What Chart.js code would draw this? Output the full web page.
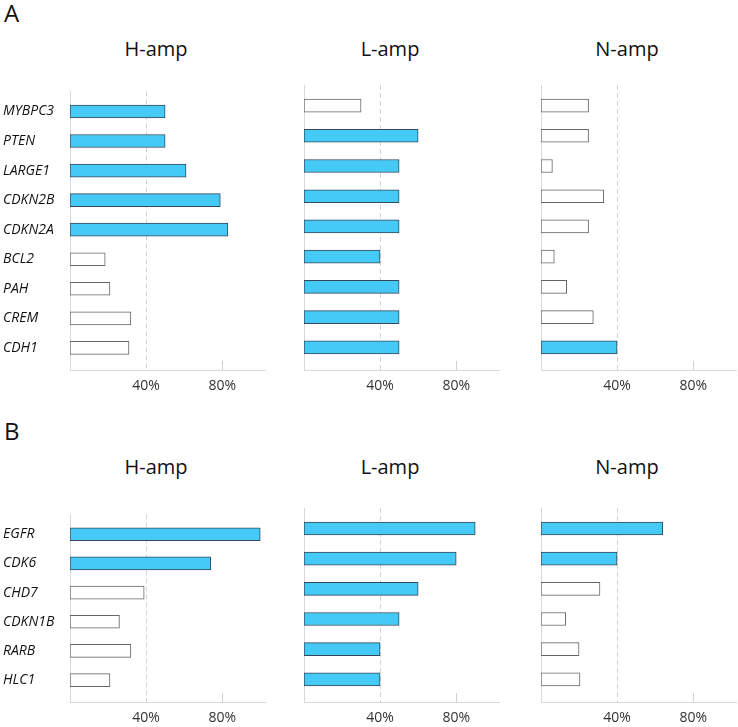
<!DOCTYPE html>
<html>
<head>
<meta charset="utf-8">
<script src="https://cdn.jsdelivr.net/npm/chart.js@4.4.1/dist/chart.umd.min.js"></script>
<style>
  html, body { margin: 0; padding: 0; background: #fff; overflow: hidden; }
  body { width: 738px; height: 727px; position: relative; font-family: "Open Sans", sans-serif; color: #111; }
  .letter { position: absolute; left: 4px; font-size: 24px; line-height: 1; }
  .title { position: absolute; width: 160px; margin-left: -80px; text-align: center; font-size: 20px; line-height: 1; }
  canvas { position: absolute; }
</style>
</head>
<body>
<div class="letter" style="top:1px">A</div>
<div class="letter" style="top:419px">B</div>

<div class="title" style="left:156px;top:39px">H-amp</div>
<div class="title" style="left:390px;top:39px">L-amp</div>
<div class="title" style="left:627px;top:39px">N-amp</div>
<div class="title" style="left:156px;top:457px">H-amp</div>
<div class="title" style="left:390px;top:457px">L-amp</div>
<div class="title" style="left:627px;top:457px">N-amp</div>

<canvas id="aH"></canvas>
<canvas id="aL"></canvas>
<canvas id="aN"></canvas>
<canvas id="bH"></canvas>
<canvas id="bL"></canvas>
<canvas id="bN"></canvas>

<script>
// panel A genes and frequencies (%)
const genesA = ['MYBPC3', 'PTEN', 'LARGE1', 'CDKN2B', 'CDKN2A', 'BCL2', 'PAH', 'CREM', 'CDH1'];
const hampA = [50, 50, 61, 79, 83, 18.5, 21, 32, 31];
const lampA = [30, 60, 50, 50, 50, 40, 50, 50, 50];
const nampA = [25, 25, 6, 33, 25, 7, 13.5, 27.5, 40];

// panel B genes and frequencies (%)
const genesB = ['EGFR', 'CDK6', 'CHD7', 'CDKN1B', 'RARB', 'HLC1'];
const hampB = [100, 74, 39, 26, 32, 21];
const lampB = [90, 80, 60, 50, 40, 40];
const nampB = [64, 40, 31, 13, 20, 20.5];

const xTicks = [40, 80];

const FONT = '"Open Sans", sans-serif';
const BLUE = '#45c9f6';
const PLOT_W = 195;

const COLS = [
    { left: 3, axisW: 67 },
    { left: 294, axisW: 10 },
    { left: 531, axisW: 10 }
];
const ROWS = [
    { top: 80, plotH: 285, axisH: 30, tickPad: 8 },
    { top: 503, plotH: 194, axisH: 25, tickPad: 8 }
];

// small solid tick at 80% sitting on the axis
const tickMark = {
    id: 'tickMark',
    afterDraw(chart) {
        const { ctx, chartArea, scales: { x } } = chart;
        const px = Math.round(x.getPixelForValue(xTicks[1])) + 0.5;
        ctx.save();
        ctx.strokeStyle = '#d0d0d0';
        ctx.lineWidth = 1;
        ctx.beginPath();
        ctx.moveTo(px, chartArea.bottom - 9);
        ctx.lineTo(px, chartArea.bottom);
        ctx.stroke();
        ctx.restore();
    }
};

function panel(id, labels, values, col, row) {
    const canvas = document.getElementById(id);
    const c = COLS[col], r = ROWS[row];
    canvas.width = c.axisW + PLOT_W + 2;
    canvas.height = 5 + r.plotH + r.axisH;
    canvas.style.left = c.left + 'px';
    canvas.style.top = r.top + 'px';

    new Chart(canvas, {
        type: 'bar',
        data: {
            datasets: [{
                data: values.map((v, i) => ({ x: v, y: i })),
                backgroundColor: values.map(v => v >= 40 ? BLUE : '#ffffff'),
                borderColor: values.map(v => v >= 40 ? '#34495a' : '#666666'),
                borderWidth: 1,
                borderSkipped: false,
                barThickness: 13
            }]
        },
        options: {
            indexAxis: 'y',
            responsive: false,
            animation: false,
            layout: { padding: { top: 5, right: 2, left: 0, bottom: 0 } },
            plugins: { legend: { display: false }, tooltip: { enabled: false } },
            scales: {
                x: {
                    type: 'linear',
                    position: 'bottom',
                    min: 0,
                    max: 102.5,
                    z: 1,
                    afterBuildTicks: s => { s.ticks = xTicks.map(v => ({ value: v })); },
                    afterFit: s => { s.height = r.axisH; },
                    ticks: {
                        callback: v => v + '%',
                        padding: r.tickPad,
                        color: '#333',
                        font: { family: FONT, size: 14 }
                    },
                    grid: {
                        color: ctx => ctx.tick && ctx.tick.value === 40 ? '#d4d4d4' : 'rgba(0,0,0,0)',
                        drawTicks: false,
                        borderDash: [5, 3]
                    },
                    border: { color: '#d9d9d9', dash: [5, 3] }
                },
                y: {
                    type: 'linear',
                    reverse: true,
                    offset: false,
                    min: -0.68,
                    max: labels.length - 0.25,
                    afterBuildTicks: s => { s.ticks = labels.map((l, i) => ({ value: i })); },
                    afterFit: s => { s.width = c.axisW; },
                    ticks: {
                        display: col === 0,
                        autoSkip: false,
                        crossAlign: 'far',
                        callback: v => labels[v],
                        color: '#111',
                        font: { family: FONT, size: 14, style: 'italic' }
                    },
                    grid: { display: false, offset: false },
                    border: { color: '#d9d9d9' }
                }
            }
        },
        plugins: [tickMark]
    });
}

panel('aH', genesA, hampA, 0, 0);
panel('aL', genesA, lampA, 1, 0);
panel('aN', genesA, nampA, 2, 0);
panel('bH', genesB, hampB, 0, 1);
panel('bL', genesB, lampB, 1, 1);
panel('bN', genesB, nampB, 2, 1);
</script>
</body>
</html>
